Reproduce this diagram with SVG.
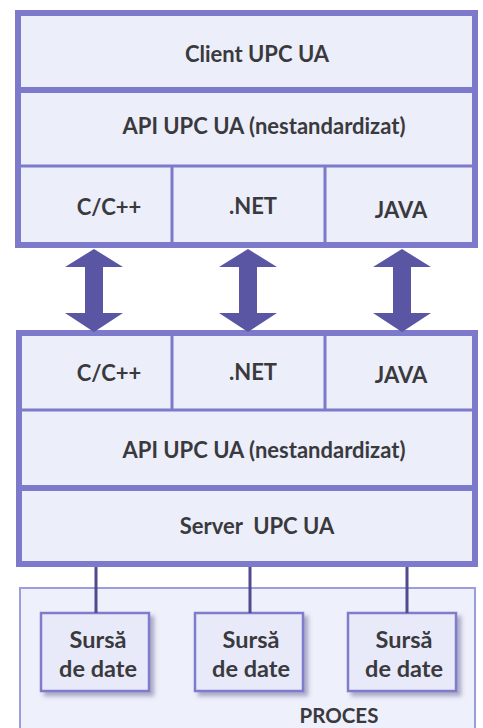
<svg xmlns="http://www.w3.org/2000/svg" xmlns:xlink="http://www.w3.org/1999/xlink" width="483" height="728" viewBox="0 0 483 728">
  <style>
    .panel { fill: #eceefa; stroke: #7d7acb; stroke-width: 6; }
    .thick { stroke: #7d7acb; stroke-width: 6; fill: none; }
    .thin { stroke: #7d7acb; stroke-width: 3; fill: none; }
    .label { font-family: Lato, "Open Sans", "Liberation Sans", sans-serif; font-weight: bold; font-size: 22px; fill: #3a3a3e; text-anchor: middle; }
    .srcLabel { font-size: 23.5px; }
    .procLabel { font-size: 20.5px; }
    .src { fill: #e9eaf9; stroke: #7f7ccb; stroke-width: 2.5; }
    .proc { fill: #eef0fb; stroke: #9d9cdc; stroke-width: 2; }
    .link { stroke: #4f4b8e; stroke-width: 3; fill: none; }
    .arrow { fill: #5a56a4; }
  </style>
  <defs>
    <!-- double-headed vertical arrow, centred on x = 0 -->
    <path id="dblArrow" class="arrow" d="M0,249 L29,267 L9,267 L9,313 L29,313 L0,332 L-29,313 L-9,313 L-9,267 L-29,267 Z"/>
    <filter id="shadow" x="-20%" y="-20%" width="150%" height="150%">
      <feDropShadow dx="4" dy="4" stdDeviation="2" flood-color="#6f6c9a" flood-opacity="0.55"/>
    </filter>
  </defs>

  <rect width="483" height="728" fill="#ffffff"/>

  <!-- process area -->
  <g id="proces">
    <rect class="proc" x="20" y="588" width="455" height="150"/>
    <text class="label procLabel" x="339" y="723">PROCES</text>
  </g>

  <!-- client stack -->
  <g id="client">
    <rect class="panel" x="18" y="13" width="457" height="232"/>
    <line class="thick" x1="18" y1="90" x2="475" y2="90"/>
    <line class="thin" x1="18" y1="166" x2="475" y2="166"/>
    <line class="thin" x1="172" y1="166" x2="172" y2="245"/>
    <line class="thin" x1="325" y1="166" x2="325" y2="245"/>
    <text class="label" x="257" y="62">Client UPC UA</text>
    <text class="label" x="264" y="134">API UPC UA (nestandardizat)</text>
    <text class="label" x="109" y="215">C/C++</text>
    <text class="label" x="253" y="214">.NET</text>
    <text class="label" x="401" y="218">JAVA</text>
  </g>

  <!-- server stack -->
  <g id="server">
    <rect class="panel" x="19" y="333" width="456" height="231"/>
    <line class="thin" x1="19" y1="410" x2="475" y2="410"/>
    <line class="thick" x1="19" y1="488" x2="475" y2="488"/>
    <line class="thin" x1="172" y1="333" x2="172" y2="410"/>
    <line class="thin" x1="325" y1="333" x2="325" y2="410"/>
    <text class="label" x="109" y="381">C/C++</text>
    <text class="label" x="253" y="380">.NET</text>
    <text class="label" x="401" y="383">JAVA</text>
    <text class="label" x="264" y="458">API UPC UA (nestandardizat)</text>
    <text class="label" x="257" y="534" xml:space="preserve">Server  UPC UA</text>
  </g>

  <!-- data sources -->
  <g id="sursa1">
    <rect class="src" x="41" y="613" width="108" height="78" filter="url(#shadow)"/>
    <text class="label srcLabel" x="98" y="648">Sursă</text>
    <text class="label srcLabel" x="98" y="677">de date</text>
  </g>
  <g id="sursa2">
    <rect class="src" x="195" y="613" width="108" height="78" filter="url(#shadow)"/>
    <text class="label srcLabel" x="251" y="648">Sursă</text>
    <text class="label srcLabel" x="251" y="677">de date</text>
  </g>
  <g id="sursa3">
    <rect class="src" x="348" y="613" width="108" height="78" filter="url(#shadow)"/>
    <text class="label srcLabel" x="404" y="648">Sursă</text>
    <text class="label srcLabel" x="404" y="677">de date</text>
  </g>

  <!-- connectors -->
  <g id="connectors">
    <use xlink:href="#dblArrow" x="94"/>
    <use xlink:href="#dblArrow" x="248"/>
    <use xlink:href="#dblArrow" x="402"/>
    <line class="link" x1="96" y1="567" x2="96" y2="613"/>
    <line class="link" x1="250" y1="567" x2="250" y2="613"/>
    <line class="link" x1="407" y1="567" x2="407" y2="613"/>
  </g>
</svg>
